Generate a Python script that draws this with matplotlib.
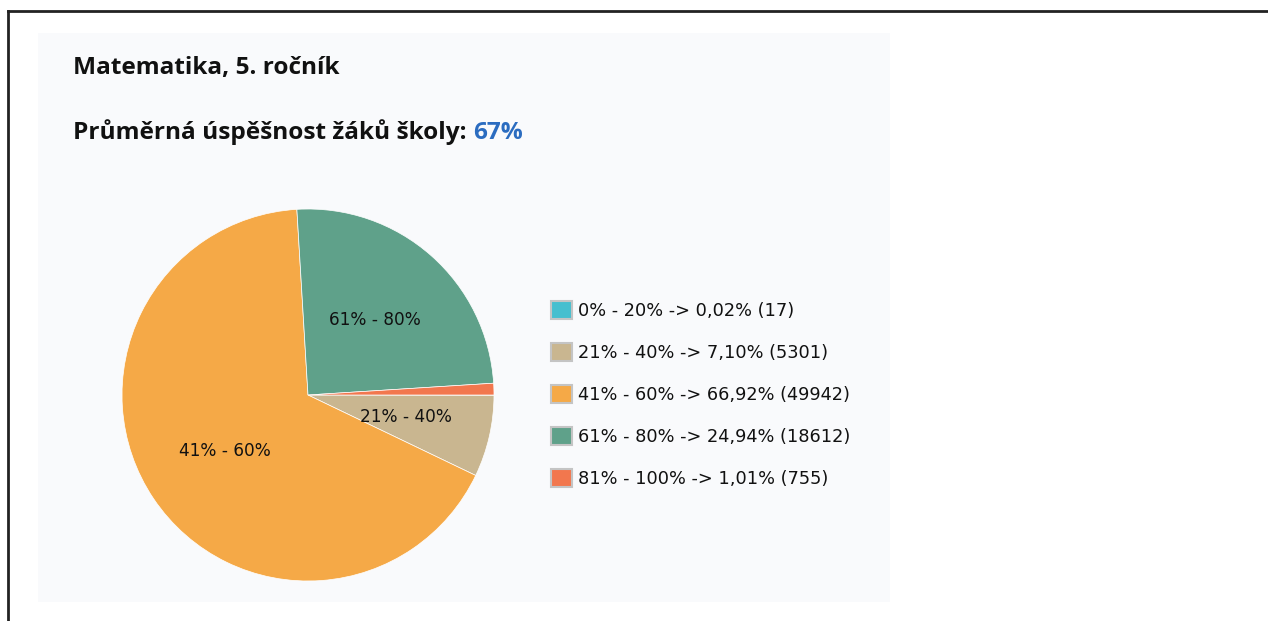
"""
Pie chart: Matematika, 5. ročník — distribution of pupils by success band.
"""

import matplotlib
matplotlib.use("Agg")
import matplotlib.pyplot as plt
from matplotlib.patches import Rectangle
from matplotlib.lines import Line2D

# =============================================================================
# DATA
# =============================================================================
TITLE      = "Matematika, 5. ročník"
SUBTITLE   = "Průměrná úspěšnost žáků školy: "
AVG_SCORE  = "67%"

bands   = ["0% - 20%", "21% - 40%", "41% - 60%", "61% - 80%", "81% - 100%"]
shares  = [0.02, 7.10, 66.92, 24.94, 1.01]          # percent of pupils
counts  = [17, 5301, 49942, 18612, 755]
colors  = ["#47bfcf", "#c9b690", "#f5a947", "#5fa18a", "#f2774e"]

LABEL_MIN = 5.0   # slices smaller than this get no inside label
# =============================================================================

W, H, DPI = 1268, 621, 100
fig = plt.figure(figsize=(W / DPI, H / DPI), dpi=DPI)
fig.patch.set_facecolor("white")


def px(x, y):
    """pixel (from top-left) -> figure fraction"""
    return x / W, 1 - y / H


# outer frame (left + top edges visible)
fig.add_artist(Line2D([8 / W, 8 / W], [0, 1 - 11 / H], color="#222222", lw=2.0))
fig.add_artist(Line2D([8 / W, 1], [1 - 11 / H, 1 - 11 / H], color="#222222", lw=2.0))

# light panel
x0, y0 = px(38, 602)
fig.add_artist(Rectangle((x0, y0), (890 - 38) / W, (602 - 33) / H,
                         transform=fig.transFigure, facecolor="#f9fafc",
                         edgecolor="none", zorder=0))

# titles
tfont = dict(family=["Open Sans", "DejaVu Sans"], weight="bold", fontsize=17.6)
fig.text(*px(73, 74), TITLE, va="baseline", ha="left", color="#111111", **tfont)
t2 = fig.text(*px(73, 139), SUBTITLE, va="baseline", ha="left", color="#111111", **tfont)
fig.canvas.draw()
bb = t2.get_window_extent()
fig.text(bb.x1 / W, 1 - 139 / H, AVG_SCORE, va="baseline", ha="left",
         color="#2b6cc0", **tfont)

# pie
cx, cy, r = 308, 395, 186
ax = fig.add_axes([(cx - r) / W, 1 - (cy + r) / H, 2 * r / W, 2 * r / H])
ax.set_facecolor("none")

labels = [b if s >= LABEL_MIN else "" for b, s in zip(bands, shares)]
wedges, texts = ax.pie(shares, labels=labels, colors=colors, startangle=0,
                       counterclock=False, labeldistance=0.54,
                       wedgeprops=dict(edgecolor="white", linewidth=0.5),
                       textprops=dict(family="DejaVu Sans", fontsize=12.2,
                                      color="#111111", ha="center", va="center"))
ax.set_xlim(-1, 1); ax.set_ylim(-1, 1)
ax.set_aspect("equal")
ax.axis("off")

# legend
leg_labels = [f"{b} -> {s:.2f}".replace(".", ",") + f"% ({c})"
              for b, s, c in zip(bands, shares, counts)]
handles = [Rectangle((0, 0), 1, 1, facecolor=c, edgecolor="#c4c4c4", lw=1.5)
           for c in colors]
leg = fig.legend(handles, leg_labels, loc="upper left",
                 bbox_to_anchor=px(551, 301), frameon=False,
                 prop=dict(family="DejaVu Sans", size=12.8),
                 handlelength=1.2, handleheight=1.2, handletextpad=0.3,
                 labelspacing=1.29, borderpad=0, borderaxespad=0)
for t in leg.get_texts():
    t.set_color("#111111")

plt.savefig("out.png", dpi=DPI)
